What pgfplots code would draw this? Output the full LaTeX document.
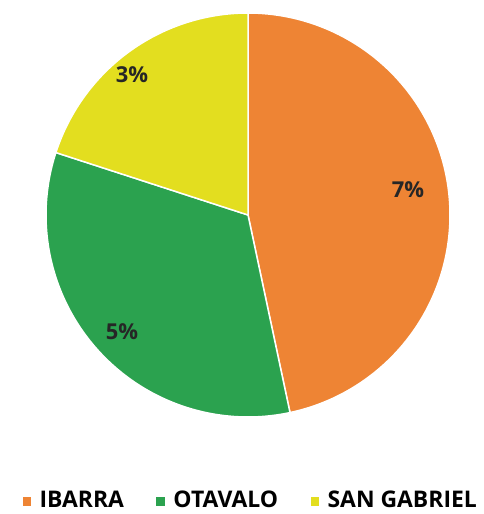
\documentclass[border=0pt]{standalone}
\usepackage{pgfplots}
\pgfplotsset{compat=1.18}
\usepackage{fontspec}
\setmainfont{Open Sans}
\definecolor{cOr}{HTML}{EE8434}
\definecolor{cGr}{HTML}{2BA24F}
\definecolor{cYe}{HTML}{E3DE1F}
\begin{document}
\begin{tikzpicture}
% data (percent)
\pgfmathsetmacro{\vA}{7}
\pgfmathsetmacro{\vB}{5}
\pgfmathsetmacro{\vC}{3}
\pgfmathsetmacro{\tot}{\vA+\vB+\vC}
\pgfmathsetmacro{\aA}{90}
\pgfmathsetmacro{\aB}{90-360*\vA/\tot}
\pgfmathsetmacro{\aC}{\aB-360*\vB/\tot}
\pgfmathsetmacro{\aD}{\aC-360*\vC/\tot}
\begin{axis}[
  scale only axis, width=484bp, height=514bp,
  xmin=0, xmax=484, ymin=0, ymax=514,
  hide axis, clip=false,
  legend columns=3,
  legend style={at={(axis cs:250,14)}, anchor=center, draw=none, fill=none,
    font=\fontsize{23}{27}\selectfont\bfseries, inner sep=0pt,
    /tikz/every even column/.append style={column sep=29bp}},
  legend image code/.code={\path (0bp,0bp) (15bp,0bp); \fill[#1] (0bp,-6.5bp) rectangle (10bp,3.5bp);},
]
\path[draw=none] (rel axis cs:0,0) rectangle (rel axis cs:1,1);
\addplot[fill=cOr, draw=white, line width=1.5pt, domain=\aA:\aB, samples=120] ({248+202*cos(x)},{299+202*sin(x)}) -- (axis cs:248,299) -- cycle;
\addlegendentry{IBARRA}
\addplot[fill=cGr, draw=white, line width=1.5pt, domain=\aB:\aC, samples=120] ({248+202*cos(x)},{299+202*sin(x)}) -- (axis cs:248,299) -- cycle;
\addlegendentry{OTAVALO}
\addplot[fill=cYe, draw=white, line width=1.5pt, domain=\aC:\aD, samples=120] ({248+202*cos(x)},{299+202*sin(x)}) -- (axis cs:248,299) -- cycle;
\addlegendentry{SAN GABRIEL}
\node[font=\fontsize{22}{26}\selectfont\bfseries, text=black!85] at (axis cs:408,324) {7\%};
\node[font=\fontsize{22}{26}\selectfont\bfseries, text=black!85] at (axis cs:122,182) {5\%};
\node[font=\fontsize{22}{26}\selectfont\bfseries, text=black!85] at (axis cs:132,439) {3\%};
\end{axis}
\end{tikzpicture}
\end{document}
